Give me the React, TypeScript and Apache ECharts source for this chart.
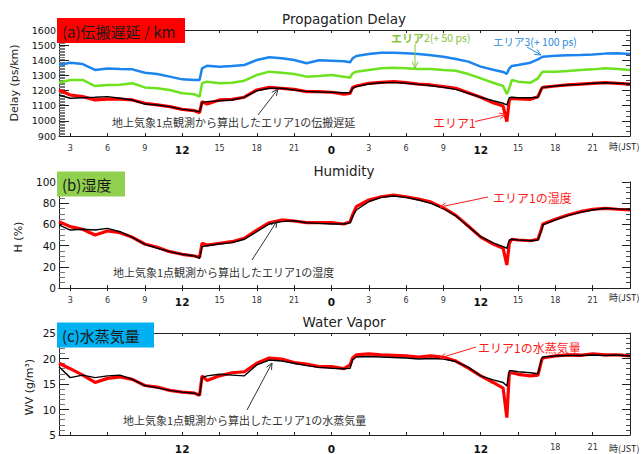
import React, { useEffect, useRef } from "react";
import * as echarts from "echarts";

// time axis (hours from 0:00 of day 1)
const hours = [2.1, 3, 4, 5, 6, 7, 8, 9, 10, 11, 12, 13, 13.4, 13.6, 14, 15, 16, 17, 18, 19, 20, 21, 22, 23, 24, 25, 25.5, 25.7, 26, 27, 28, 29, 30, 31, 32, 33, 34, 35, 36, 37, 37.8, 38.1, 38.3, 38.5, 39, 40, 40.6, 40.9, 41, 42, 43, 44, 45, 46, 47, 48];

// (a) propagation delay, ps/km
const delayArea3 = [1369, 1384, 1375, 1336, 1345, 1342, 1340, 1318, 1309, 1292, 1274, 1270, 1270, 1347, 1364, 1358, 1362, 1369, 1402, 1420, 1413, 1402, 1380, 1400, 1397, 1393, 1387, 1413, 1428, 1441, 1450, 1450, 1446, 1441, 1433, 1424, 1408, 1391, 1358, 1338, 1323, 1311, 1347, 1362, 1369, 1384, 1406, 1420, 1424, 1430, 1433, 1435, 1439, 1444, 1446, 1441];
const delayArea2 = [1252, 1270, 1270, 1230, 1237, 1239, 1248, 1221, 1215, 1204, 1182, 1175, 1160, 1248, 1259, 1248, 1252, 1265, 1303, 1325, 1318, 1309, 1292, 1296, 1303, 1292, 1285, 1314, 1325, 1336, 1347, 1351, 1347, 1342, 1342, 1336, 1331, 1309, 1281, 1252, 1230, 1177, 1215, 1270, 1259, 1252, 1281, 1318, 1325, 1325, 1329, 1336, 1340, 1347, 1342, 1336];
const delayArea1 = [1204, 1171, 1160, 1138, 1144, 1144, 1138, 1116, 1105, 1094, 1076, 1067, 1054, 1127, 1111, 1138, 1142, 1156, 1204, 1221, 1215, 1208, 1193, 1193, 1189, 1177, 1182, 1221, 1230, 1248, 1254, 1259, 1252, 1243, 1237, 1226, 1215, 1186, 1156, 1120, 1098, 995, 1138, 1149, 1145, 1142, 1160, 1215, 1221, 1230, 1237, 1243, 1248, 1252, 1248, 1243];
const delayGround = [1171, 1149, 1153, 1156, 1160, 1149, 1138, 1111, 1105, 1094, 1076, 1067, 1061, 1120, 1127, 1133, 1138, 1156, 1199, 1215, 1215, 1204, 1195, 1191, 1189, 1186, 1186, 1215, 1226, 1243, 1252, 1254, 1248, 1241, 1232, 1221, 1208, 1182, 1156, 1133, 1116, 1105, 1153, 1156, 1153, 1153, 1156, 1215, 1221, 1230, 1237, 1241, 1248, 1252, 1248, 1243];

// (b) humidity, %
const humidArea1 = [62.6, 57.9, 55.4, 50, 53.8, 52.2, 47.8, 41.5, 38.4, 34.3, 31.8, 30.2, 29, 42.2, 40.6, 42.2, 43.7, 46.9, 54.7, 61.6, 64.2, 63.2, 61.6, 61.6, 61.6, 60.4, 62.6, 68.9, 76.7, 83, 86.1, 87.7, 86.1, 83.9, 81, 75.5, 68.5, 58.5, 48, 41.5, 37.5, 21.7, 42.2, 46, 45.3, 44.6, 46, 56.3, 60.4, 64.8, 68.9, 72, 74.3, 75.2, 74.3, 73.6];
const humidGround = [59.5, 54.7, 55.4, 54.7, 56.3, 53.1, 47.8, 41.2, 37.5, 34.3, 31.8, 30.2, 28, 39, 39.9, 41.5, 42.8, 46, 53.1, 60.4, 62.6, 63.5, 61.6, 61, 60.4, 60.4, 61.6, 67.3, 73.6, 81.4, 85.5, 86.8, 85.5, 83, 79.9, 75, 68, 58, 48.5, 42.5, 39, 37.5, 45.3, 46, 45.3, 44.6, 45.3, 54.7, 59.5, 64.2, 68.3, 71.4, 73.6, 75.2, 74.6, 74.3];

// (c) water vapor, g/m3
const vaporArea1 = [19.06, 18, 16.75, 15.3, 16.1, 16.4, 15.9, 14.7, 14.4, 13.75, 13.4, 13.2, 12.8, 16.6, 15.7, 16.6, 17.2, 17.4, 19.06, 20.1, 19.9, 19.2, 18.9, 18.4, 18.4, 18, 18.75, 20.1, 20.7, 20.9, 20.7, 20.6, 20.5, 20.3, 20.5, 20.25, 19.5, 18.1, 16.6, 15.3, 14.2, 8.4, 17.2, 17.2, 16.9, 16.6, 16.75, 19.7, 20.1, 20.5, 20.7, 20.6, 20.9, 20.7, 20.7, 20.5];
const vaporGround = [18.4, 16.25, 16.75, 16.25, 16.6, 16.75, 15.9, 14.7, 14.25, 13.75, 13.4, 13.2, 12.8, 16.25, 16.6, 16.9, 16.75, 16.6, 18.75, 19.7, 19.5, 19.06, 18.6, 18.25, 18.1, 18, 18.1, 19.7, 20.3, 20.4, 20.3, 20.2, 20.1, 19.9, 20, 19.9, 19.4, 18.3, 16.6, 15.8, 15.3, 14.6, 17.6, 17.6, 17.4, 17.2, 17, 20, 20.3, 20.5, 20.6, 20.6, 20.7, 20.6, 20.7, 20.5];

// tick positions (hours)
const hourTicks = [3, 6, 9, 12, 15, 18, 21, 24, 27, 30, 33, 36, 39, 42, 45];
const vaporHourLabels = [12, 24, 36, 42, 45];

const LATIN = "DejaVu Sans";
const CJK = "Noto Sans CJK JP";
const RED = "#ff0000";
const BLUE = "#1c84ee";
const GREEN = "#6ee21e";

const pairs = (vals: number[]) => hours.map((h, i) => [h, vals[i]]);

const panels = [
  { top: 30, height: 106, min: 900, max: 1600, interval: 100, minor: 10, rminor: 3, lsize: 9.5, labels: hourTicks },
  { top: 182, height: 106, min: 0, max: 100, interval: 20, minor: 4, rminor: 4, lsize: 10.5, labels: hourTicks },
  { top: 333, height: 107, min: 5, max: 25, interval: 5, minor: 5, rminor: 5, lsize: 10.5, labels: vaporHourLabels },
];

function arrow(x1: number, y1: number, x2: number, y2: number, color: string) {
  const a = Math.atan2(y2 - y1, x2 - x1);
  const L = 7;
  const w = 0.42;
  const p1 = [x2 - L * Math.cos(a - w), y2 - L * Math.sin(a - w)];
  const p2 = [x2 - L * Math.cos(a + w), y2 - L * Math.sin(a + w)];
  return [
    { type: "line", z: 100, shape: { x1, y1, x2, y2 }, style: { stroke: color, lineWidth: 1 } },
    { type: "polyline", z: 100, shape: { points: [p1, [x2, y2], p2] }, style: { stroke: color, lineWidth: 1, fill: null } },
  ];
}

function txt(x: number, y: number, text: string, size: number, color: string, font = CJK, extra: any = {}) {
  return {
    type: "text",
    z: 100,
    x,
    y,
    style: { text, fontSize: size, fill: color, fontFamily: font, textVerticalAlign: "middle", ...extra },
  };
}

export default function App() {
  const ref = useRef<HTMLDivElement>(null);
  useEffect(() => {
    if (!ref.current) return;
    const chart = echarts.init(ref.current, null, { renderer: "svg" });

    const grid: any[] = [];
    const xAxis: any[] = [];
    const yAxis: any[] = [];
    panels.forEach((p, i) => {
      grid.push({ left: 59, top: p.top, width: 571, height: p.height });
      xAxis.push({
        type: "value",
        gridIndex: i,
        min: 2.1,
        max: 48,
        axisLine: { show: true, lineStyle: { color: "#222", width: 1 } },
        axisTick: { show: true, inside: true, length: 3, customValues: hourTicks, lineStyle: { color: "#222" } },
        axisLabel: {
          show: true,
          customValues: p.labels,
          margin: 8,
          formatter: (v: number) => {
            const h = Math.round(v) % 24;
            return h === 12 || h === 0 ? `{big|${h}}` : `{small|${h}}`;
          },
          rich: {
            big: { fontSize: 10.5, fontWeight: "bold", color: "#111", fontFamily: LATIN },
            small: { fontSize: 8, color: "#333", fontFamily: LATIN },
          },
        },
        splitLine: { show: false },
      });
      xAxis.push({
        type: "value",
        gridIndex: i,
        position: "top",
        min: 2.1,
        max: 48,
        axisLine: { show: true, lineStyle: { color: "#222", width: 1 } },
        axisTick: { show: true, inside: true, length: 3, customValues: hourTicks, lineStyle: { color: "#222" } },
        axisLabel: { show: false },
        splitLine: { show: false },
      });
      yAxis.push({
        type: "value",
        gridIndex: i,
        min: p.min,
        max: p.max,
        interval: p.interval,
        axisLine: { show: true, lineStyle: { color: "#222", width: 1 } },
        axisTick: { show: true, inside: true, length: 10, lineStyle: { color: "#222" } },
        minorTick: { show: true, splitNumber: p.minor, length: 6, lineStyle: { color: "#777" } },
        axisLabel: {
          show: true,
          margin: 3,
          fontSize: p.lsize,
          color: "#111",
          fontFamily: LATIN,
          formatter: (v: number) => String(v),
        },
        splitLine: { show: false },
        minorSplitLine: { show: false },
      });
      yAxis.push({
        type: "value",
        gridIndex: i,
        position: "right",
        min: p.min,
        max: p.max,
        interval: p.interval,
        axisLine: { show: true, lineStyle: { color: "#222", width: 1 } },
        axisTick: { show: true, inside: true, length: 8, lineStyle: { color: "#222" } },
        minorTick: { show: true, splitNumber: p.rminor, length: 4, lineStyle: { color: "#444" } },
        axisLabel: { show: false },
        splitLine: { show: false },
        minorSplitLine: { show: false },
      });
    });

    const line = (name: string, vals: number[], idx: number, color: string, width: number, z: number) => ({
      name,
      type: "line",
      xAxisIndex: idx * 2,
      yAxisIndex: idx * 2,
      data: pairs(vals),
      showSymbol: false,
      symbol: "none",
      z,
      lineStyle: { color, width },
    });

    const series = [
      line("エリア3", delayArea3, 0, BLUE, 2.5, 2),
      line("エリア2", delayArea2, 0, GREEN, 2.5, 3),
      line("エリア1", delayArea1, 0, RED, 3.2, 4),
      line("地上気象", delayGround, 0, "#000", 1.4, 5),
      line("エリア1の湿度", humidArea1, 1, RED, 3.2, 4),
      line("地上気象湿度", humidGround, 1, "#000", 1.4, 5),
      line("エリア1の水蒸気量", vaporArea1, 2, RED, 3.2, 4),
      line("地上気象水蒸気量", vaporGround, 2, "#000", 1.4, 5),
    ];

    const graphic: any[] = [
      // titles
      txt(344, 19, "Propagation Delay", 13.5, "#222", LATIN, { textAlign: "center" }),
      txt(344, 171, "Humidity", 13.5, "#222", LATIN, { textAlign: "center" }),
      txt(344, 322, "Water Vapor", 13.5, "#222", LATIN, { textAlign: "center" }),
      // header boxes
      { type: "rect", z: 100, shape: { x: 57, y: 18, width: 128, height: 25 }, style: { fill: "#ff0000" } },
      txt(62, 31, "(a)伝搬遅延 / km", 15, "#1a1a1a"),
      { type: "rect", z: 100, shape: { x: 57, y: 171.5, width: 68, height: 25 }, style: { fill: "#92d050" } },
      txt(62, 184, "(b)湿度", 15, "#1a1a1a"),
      { type: "rect", z: 100, shape: { x: 57, y: 322.5, width: 97, height: 25 }, style: { fill: "#00b0f0" } },
      txt(62, 335, "(c)水蒸気量", 15, "#1a1a1a"),
      // y axis names
      txt(14, 83, "Delay (ps/km)", 11, "#222", LATIN, { textAlign: "center" }),
      txt(18, 237, "H (%)", 11, "#222", LATIN, { textAlign: "center" }),
      txt(29, 387, "WV (g/m³)", 11, "#222", LATIN, { textAlign: "center" }),
      // time unit labels
      txt(609, 146, "時(JST)", 9, "#222"),
      txt(609, 297, "時(JST)", 9, "#222"),
      txt(609, 448, "時(JST)", 9, "#222"),
      // panel (a) annotations
      txt(112, 122, "地上気象1点観測から算出したエリア1の伝搬遅延", 11, "#333"),
      ...arrow(258, 115, 278, 89, "#333"),
      txt(433, 122.5, "エリア1", 12, "#ff1a1a"),
      ...arrow(475, 121.5, 506, 114.5, "#ff1a1a"),
      {
        type: "text",
        z: 100,
        x: 391,
        y: 37.5,
        style: {
          text: "{b|エリア}{n|2(+ 50 ps)}",
          textVerticalAlign: "middle",
          rich: {
            b: { fontSize: 11, fontWeight: "bold", fill: "#86c540", fontFamily: CJK },
            n: { fontSize: 10.5, fill: "#86c540", fontFamily: CJK },
          },
        },
      },
      ...arrow(415, 44, 415, 68, "#86c540"),
      txt(493, 41, "エリア3(+ 100 ps)", 10.5, "#2e8ad8"),
      ...arrow(527, 47, 541, 55, "#2e8ad8"),
      // panel (b) annotations
      txt(493, 197, "エリア1の湿度", 12, "#ff1a1a"),
      ...arrow(488, 197, 440, 207, "#ff1a1a"),
      txt(113, 271.5, "地上気象1点観測から算出したエリア1の湿度", 11, "#333"),
      ...arrow(252, 260, 277, 221, "#333"),
      // panel (c) annotations
      txt(478, 347, "エリア1の水蒸気量", 12, "#ff1a1a"),
      ...arrow(476, 347, 440, 358, "#ff1a1a"),
      txt(123, 420, "地上気象1点観測から算出したエリア1の水蒸気量", 11, "#333"),
      ...arrow(247, 410, 272, 363, "#333"),
    ];
    // rotate y names
    [9, 10, 11].forEach((k) => {
      graphic[k].rotation = Math.PI / 2;
    });

    chart.setOption({
      animation: false,
      backgroundColor: "#ffffff",
      grid,
      xAxis,
      yAxis,
      series,
      graphic,
    });
    return () => chart.dispose();
  }, []);

  return (
    <div
      ref={ref}
      style={{ position: "absolute", left: 0, top: 0, width: 641, height: 454, background: "#fff" }}
    />
  );
}
